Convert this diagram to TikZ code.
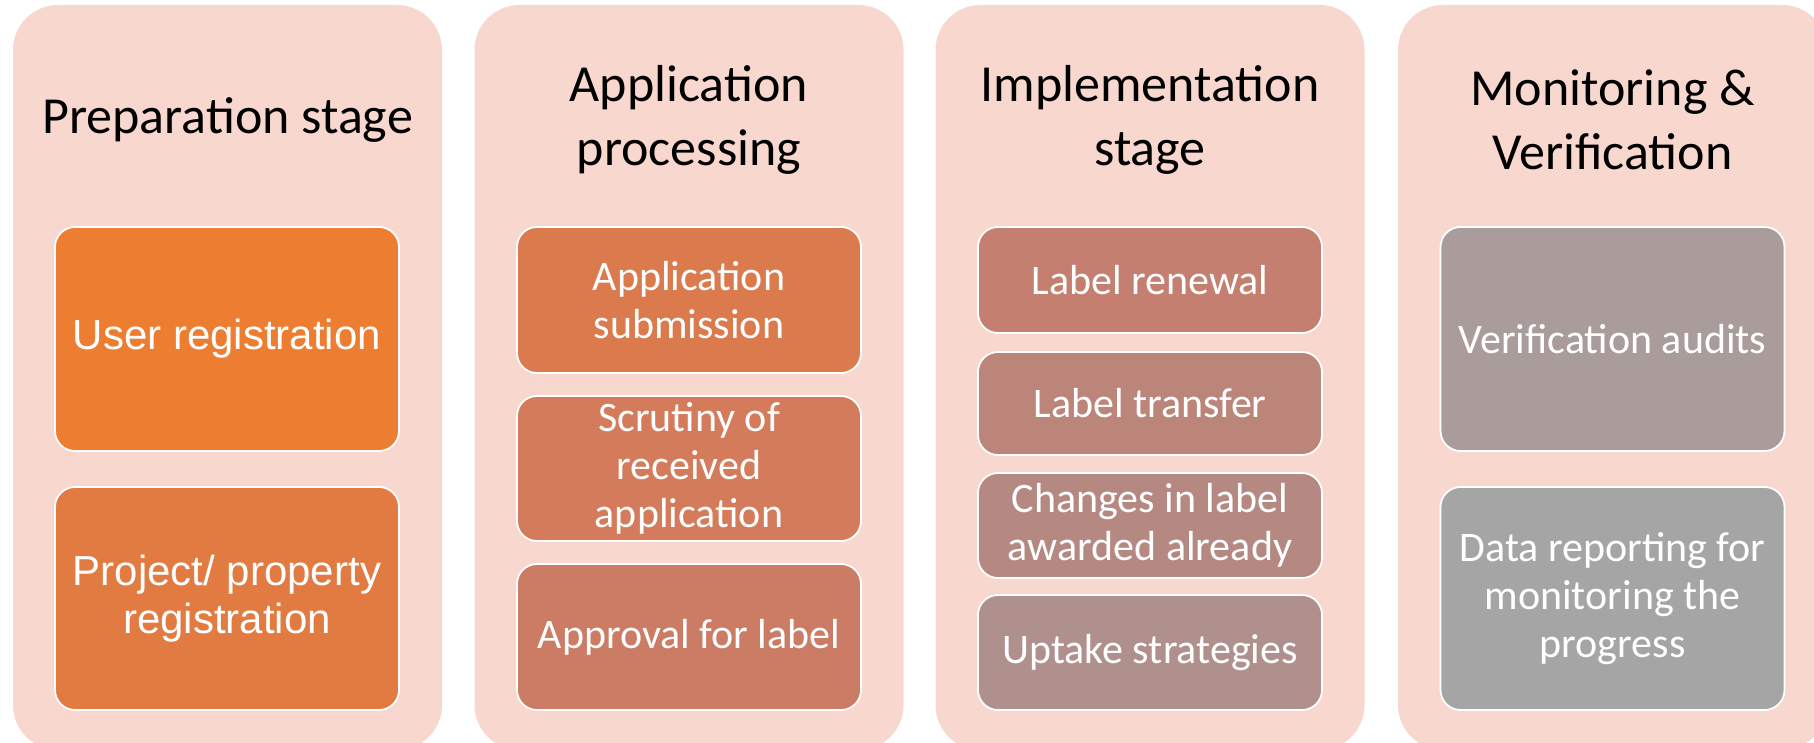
\documentclass[tikz,border=0pt]{standalone}
\usepackage{fontspec}
\setmainfont{Carlito}
\newfontfamily\arialfont{Liberation Sans}
\usepackage{xcolor}
\usetikzlibrary{positioning}
\definecolor{stagePeach}{HTML}{F7D7CE}
\definecolor{stepA}{HTML}{ED7D31}
\definecolor{stepB}{HTML}{E27B41}
\definecolor{stepC}{HTML}{DB7A4D}
\definecolor{stepD}{HTML}{D47B5B}
\definecolor{stepE}{HTML}{CC7B65}
\definecolor{stepF}{HTML}{C47F70}
\definecolor{stepG}{HTML}{BC8579}
\definecolor{stepH}{HTML}{B58982}
\definecolor{stepI}{HTML}{B0908D}
\definecolor{stepJ}{HTML}{A99C9B}
\definecolor{stepK}{HTML}{A5A5A5}

\begin{document}
\begin{tikzpicture}[x=1pt,y=-1pt,
  font=\fontsize{42}{48}\selectfont,
  stage/.style={fill=stagePeach,rounded corners=45pt,minimum width=429pt,minimum height=745pt,inner sep=0pt},
  head/.style={align=center,font=\fontsize{52}{63.5}\selectfont},
  task/.style={draw=white,line width=1.8pt,rounded corners=20pt,minimum width=344pt,inner sep=0pt,text=white,align=center,fill=#1}]
\useasboundingbox (0,0) rectangle (1814,743);
\clip (0,0) rectangle (1814,743);
% the four stages
\node[stage] (prep) at (227.5,377.5) {};
\node[stage] (appl) at (689,377.5) {};
\node[stage] (impl) at (1150,377.5) {};
\node[stage] (moni) at (1612.5,377.5) {};
\node[head] (prephead) at (227.5,120) {Preparation stage};
\node[head] (applhead) at (689,120) {Application\\processing};
\node[head] (implhead) at (1150,120) {Implementation\\stage};
\node[head] (monihead) at (1612.5,120) {Monitoring \&\\Verification};
% preparation
\node[task=stepA,minimum height=224pt,font=\arialfont\fontsize{42}{48}\selectfont] (user) at (227,339) {\raisebox{-4pt}{User registration}};
\node[task=stepB,minimum height=223pt,font=\arialfont\fontsize{42}{48}\selectfont] (proj) at (227,598.5) {Project/ property\\registration};
% application
\node[task=stepC,minimum height=146pt] (submit) at (689,300) {Application\\submission};
\node[task=stepD,minimum height=145pt] (scrut) at (689,468.5) {Scrutiny of\\received\\application};
\node[task=stepE,minimum height=146pt] (approve) at (689,637) {Approval for label};
% implementation
\node[task=stepF,minimum height=106pt] (renew) at (1150,280) {Label renewal};
\node[task=stepG,minimum height=103pt] (transfer) at (1150,403.5) {Label transfer};
\node[task=stepH,minimum height=105pt] (changes) at (1150,525.5) {Changes in label\\awarded already};
\node[task=stepI,minimum height=115pt] (uptake) at (1150,652.5) {Uptake strategies};
% monitoring
\node[task=stepJ,minimum height=224pt] (audit) at (1612.5,339) {Verification audits};
\node[task=stepK,minimum height=223pt] (report) at (1612.5,598.5) {Data reporting for\\monitoring the\\progress};
\end{tikzpicture}
\end{document}
